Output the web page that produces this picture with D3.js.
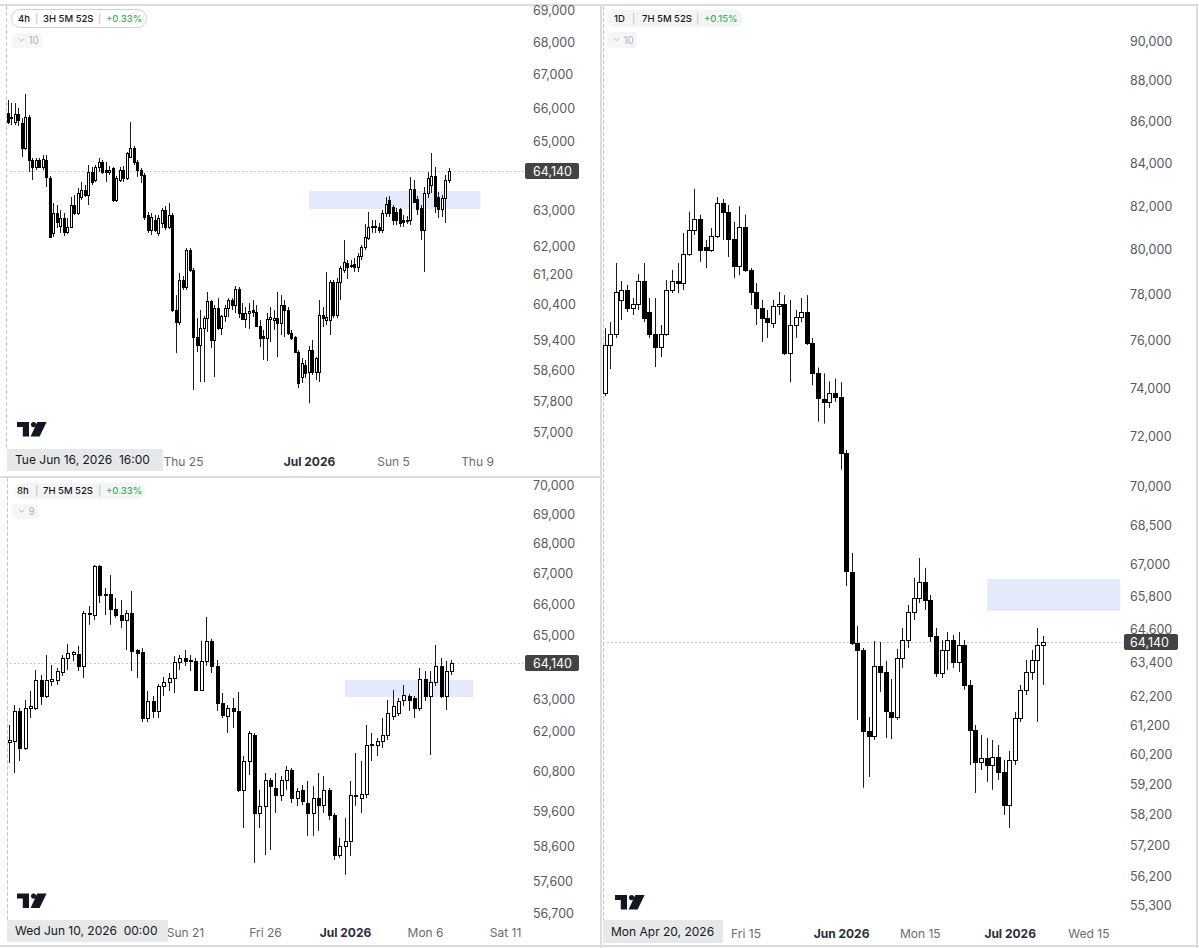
<!DOCTYPE html>
<html><head><meta charset="utf-8">
<script src="https://cdn.jsdelivr.net/npm/d3@7"></script>
<style>
body{margin:0;background:#fff;}
svg{display:block;font-family:Inter,"Noto Sans",sans-serif;}
</style></head><body>
<svg id="c" width="1199" height="948"></svg>
<script>
// ---------------- DATA ----------------
const lastPrice = 64140;

// 4h candles (start Tue Jun 16 2026 16:00 UTC)
const h4Start = "2026-06-16T16:00:00Z";
const h4Open = [65855,65705,65587,65825,65557,64820,65735,64470,64267,64470,
64267,64470,63948,62375,62942,62573,62800,62403,62545,63169,
62942,63398,63600,63456,64122,63890,64267,64412,64180,64122,
64238,63311,63890,64180,63948,64557,64820,64412,64180,64035,
62885,62460,62743,62375,62658,63027,62545,62885,60236,59911,
61061,60867,61893,61338,59504,59287,59748,60019,60480,59423,
60290,59748,60073,60290,60507,60371,60812,60155,59992,60155,
60236,60182,59802,59531,59477,59992,59965,60019,59884,60371,
60236,59612,59504,59099,58437,58755,58569,59152,58569,58569,
60100,59965,59965,61006,60100,61006,61338,61532,61477,61504,
61421,61726,61978,62233,62545,62545,62545,62460,62942,63311,
63112,62970,63055,62743,62715,62743,63629,63340,63084,62460,
63513,63745,64006,63398,63055,63369,63890];
const h4High = [66244,66154,66154,66004,65705,66425,65795,64528,64528,64528,
64615,64615,64006,63226,63169,63027,62942,62800,63398,63456,
63658,63832,63745,64325,64267,64325,64528,64470,64412,64296,
64267,64006,64267,64296,64703,65587,64879,64470,64238,64093,
62970,62942,62885,62885,63084,63141,63226,62942,60645,61255,
61172,61949,61949,61393,60019,60236,60073,60729,60507,60371,
60562,60100,60371,60562,60562,60895,60867,60426,60317,60426,
60507,60371,59965,59694,60155,60317,60236,60729,60645,60507,
60317,59694,59531,59152,58940,58887,59261,59423,58966,60507,
60317,61283,61061,61061,61117,61449,62176,61615,61615,61671,
61809,62034,62630,62970,62743,62743,62658,63027,63398,63427,
63169,63084,63084,62885,62857,63977,63890,63427,63169,63687,
64122,64674,64267,63542,63456,64035,64238];
const h4Low = [65527,65498,65498,65468,64557,64761,64122,63890,64180,64238,
64180,63687,62233,62261,62516,62375,62290,62346,62516,62885,
62885,63311,63398,63169,63745,63832,64122,64064,63832,64035,
63254,63254,63832,63832,63890,64528,64325,63977,63803,62743,
62375,62318,62403,62290,62516,62460,62488,60182,59072,59830,
60784,60784,61283,58093,59099,58305,58305,59640,59206,58437,
59694,59558,59911,60046,60236,60155,60019,59965,59748,59721,
60046,59775,59233,58887,58860,59369,59694,58966,59558,59504,
59558,59423,59072,58146,58279,58411,57749,58490,58358,58305,
59775,59830,59558,60019,60019,60507,61255,61089,61393,61283,
61283,61615,61893,62176,62375,62375,62375,62375,62828,62828,
62601,62601,62545,62545,62630,62601,63226,62885,62176,61283,
63369,63513,62942,62800,62828,62658,63803];
const h4Close = [65587,65735,65825,65646,64820,65735,64470,64267,64470,64267,
64499,63977,62261,62942,62686,62800,62403,62545,63169,62942,
63513,63600,63456,64122,63832,64267,64412,64122,64122,64180,
63311,63948,64180,63948,64674,64820,64412,64180,64035,62828,
62460,62828,62460,62800,63027,62545,62885,60236,59911,61061,
60867,61893,61338,59504,59287,59748,60019,60480,59423,60290,
59748,60073,60290,60507,60371,60812,60155,59992,60155,60209,
60182,59802,59477,59477,59992,60046,60019,59884,60371,60236,
59612,59477,59099,58279,58808,58543,59152,58569,58940,60100,
60019,60046,61006,60100,61006,61393,61560,61421,61449,61421,
61726,61978,62261,62545,62573,62573,62460,62942,63198,62942,
62743,62743,62658,62686,62743,63629,63254,63055,62460,63513,
63948,64006,63141,63055,63369,63890,64140];

// 8h candles (start Wed Jun 10 2026 00:00 UTC)
const h8Start = "2026-06-10T00:00:00Z";
const h8Open = [61680,61710,62630,61500,62722,62722,63592,63093,63561,63592,
63842,64284,64411,64411,64031,65725,65660,67263,66340,66340,
65855,65660,65503,65725,64538,64475,62414,62938,62630,63405,
63530,63654,64158,64284,64190,64190,63280,64190,64830,64031,
62876,62475,62722,62630,60242,61106,61894,59562,59767,60538,
60301,60093,60538,60836,60003,60242,59855,59562,60003,59797,
60242,59504,58344,58603,58750,60093,60003,60123,61589,61589,
61710,61894,62475,62568,62969,63093,63031,62722,63623,63093,
63530,64031,63093,63874];
const h8High = [62200,62815,62722,62969,63249,63905,63748,64380,64063,63968,
64380,64734,64506,64670,65790,65952,67296,67296,66535,66965,
66212,66147,65822,66437,64570,64600,63249,63093,63467,63686,
63811,64348,64380,64538,64380,64284,64830,65600,64894,64221,
63187,62815,63031,63218,61257,62015,61955,60242,60747,60597,
60747,60657,60955,60896,60301,60390,60508,60360,60747,60657,
60301,59562,58838,59416,60508,61347,61106,62199,61955,61802,
62414,62969,63280,63031,63436,63155,63093,63968,63874,63874,
64697,64284,64190,64221];
const h8Low = [61046,60747,61106,61437,62414,62660,62815,63031,63405,63436,
63717,63905,64190,63874,63654,65342,65503,66050,65660,65342,
65567,65246,64538,63874,63654,62290,62290,62414,62414,63093,
63249,63187,63905,64031,63874,63249,63249,64031,63811,62630,
62414,61955,62107,60182,59126,60687,58117,59126,58344,58486,
59562,59914,60242,59855,59767,59797,58896,58896,59039,59562,
59358,58202,58259,57776,58316,59767,59562,60003,61106,61257,
61498,61741,62352,62475,62784,62630,62414,62630,62938,61287,
63405,63031,62660,63748];
const h8Close = [61741,62630,61500,62722,62784,63592,63093,63592,63623,63874,
64284,64443,64475,64031,65725,65693,67263,66307,66307,65855,
65660,65503,65725,64506,64443,62414,62938,62630,63405,63530,
63654,64158,64284,64190,64221,63280,64190,64830,64031,62876,
62506,62722,62630,60242,61106,61955,59562,59767,60538,60360,
60093,60538,60836,60003,60212,59914,59562,60003,59797,60242,
59504,58344,58603,58750,60093,60063,60123,61589,61620,61710,
61894,62568,62784,62938,63124,62969,62722,63623,63093,63530,
64031,63093,63874,64140];

// 1D candles (start Mon Apr 20 2026)
const d1Start = "2026-04-20T00:00:00Z";
const d1Open = [73800,75830,76300,77774,78214,77424,77600,78610,77250,76300,
75740,76300,78214,78610,78522,79818,80900,81423,80135,80000,
80630,82145,81730,80495,79280,81040,79100,78125,77424,76990,
76770,77510,77600,75485,76686,77035,77250,75910,74620,73554,
73430,73800,73637,71350,66720,64100,63850,61000,60830,63280,
63060,61655,61480,63565,64210,65235,65750,66345,65675,64355,
63030,63850,64210,63420,64030,62600,61030,59940,60080,59840,
60110,59605,58510,60010,61450,62430,63060,63490,64030];
const d1High = [76550,76815,79416,78610,78434,77862,78920,79416,77862,77862,
76686,78654,79100,79416,80765,81750,82800,81610,80450,80990,
82420,82330,82050,81270,82000,81610,79190,78520,77774,77336,
77774,78125,77990,77774,77336,77862,77990,76128,74870,74620,
74290,74410,74250,71470,67440,64720,63920,61480,64170,64140,
63460,62810,63885,64650,65490,66500,67250,66875,65860,64650,
64210,64500,64390,64500,64210,62780,61205,60860,60760,60690,
60520,60010,60315,61655,62600,63490,63850,64650,64355];
const d1Low = [73680,74807,76128,76900,77250,77120,77336,76815,76128,74890,
75315,76214,78080,78080,78214,79728,80675,79460,79190,79910,
80540,80450,79680,78740,78870,79010,77555,76686,75960,76128,
76556,77120,75400,74250,76128,76815,75826,74120,72620,72540,
73180,73430,70680,66190,64030,61380,59080,59440,60690,62360,
60760,60725,61380,63210,63920,64940,65565,65305,64140,62885,
62850,63135,63210,63060,62430,59840,58905,59670,59275,59010,
59340,58180,57750,59840,61310,62250,62780,61310,62600];
const d1Close = [75830,76300,78125,78214,77424,77600,78610,76990,76300,75740,
76300,78214,78610,78522,79818,80900,81423,80000,80000,80630,
82145,81730,80495,79280,81040,79100,78125,77424,76990,76815,
77510,77600,75485,76686,77035,77250,75910,74620,73595,73430,
73800,73637,71350,66740,64100,63850,61000,60830,63270,63060,
61690,61480,63565,64210,65235,65750,66345,65675,64355,63030,
63850,64210,63420,64030,62610,61030,59940,60080,59840,60110,
59605,58510,60010,61450,62430,63060,63490,64030,64140];

// price-axis ticks
const p1PriceTicks = [69000,68000,67000,66000,65000,63000,62000,61200,60400,59400,58600,57800,57000];
const p2PriceTicks = [70000,69000,68000,67000,66000,65000,63000,62000,60800,59600,58600,57600,56700];
const p3PriceTicks = [90000,88000,86000,84000,82000,80000,78000,76000,74000,72000,70000,68500,67000,65800,64600,63400,62200,61200,60200,59200,58200,57200,56200,55300];

// time-axis ticks
const p1TimeTicks = ["2026-06-25","2026-07-01","2026-07-05","2026-07-09"];
const p1TimeLabels = ["Thu 25","Jul 2026","Sun 5","Thu 9"];
const p2TimeTicks = ["2026-06-21","2026-06-26","2026-07-01","2026-07-06","2026-07-11"];
const p2TimeLabels = ["Sun 21","Fri 26","Jul 2026","Mon 6","Sat 11"];
const p3TimeTicks = ["2026-05-15","2026-06-01","2026-06-15","2026-07-01","2026-07-15"];
const p3TimeLabels = ["Fri 15","Jun 2026","Mon 15","Jul 2026","Wed 15"];
const boldLabels = ["Jul 2026","Jun 2026"];

// zones [start, end, top price, bottom price]
const p1Zone = ["2026-07-01T00:00:00Z","2026-07-09T04:00:00Z",63571,63055];
const p2Zone = ["2026-07-01T00:00:00Z","2026-07-09T00:00:00Z",63592,63062];
const p3Zone = ["2026-06-27T00:00:00Z","2026-07-20T16:00:00Z",66457,65270];

// header texts
const p1Header = ["4h","3H 5M 52S","+0.33%"]; const p1Count = "10";
const p2Header = ["8h","7H 5M 52S","+0.33%"]; const p2Count = "9";
const p3Header = ["1D","7H 5M 52S","+0.15%"]; const p3Count = "10";
const p1Cross = "Tue Jun 16, 2026  16:00";
const p2Cross = "Wed Jun 10, 2026  00:00";
const p3Cross = "Mon Apr 20, 2026";

// ---------------- DRAW ----------------
const svg = d3.select('#c');
const FONT = 'Inter, "Noto Sans", sans-serif';
const fmt = d3.format(",");

// frame
const frame = svg.append('g').attr('fill','#dcdcdc');
frame.append('rect').attr('x',0).attr('y',4).attr('width',1199).attr('height',2);
frame.append('rect').attr('x',0).attr('y',476).attr('width',601).attr('height',2);
frame.append('rect').attr('x',600).attr('y',4).attr('width',2).attr('height',944);
frame.append('rect').attr('x',1196).attr('y',4).attr('width',2).attr('height',944);
frame.append('rect').attr('x',0).attr('y',945).attr('width',1199).attr('height',2);

function drawLogo(g, ox, oy){
  const lg = g.append('g').attr('transform',`translate(${ox},${oy})`).attr('fill','#131722');
  lg.append('path').attr('d','M0 0 H12 V14.5 H5.8 V5 H0 Z');
  lg.append('circle').attr('cx',16.6).attr('cy',2.6).attr('r',2.6);
  lg.append('path').attr('d','M20.3 0 H29.6 L22.6 14.5 H13.6 Z');
}

function panel(cfg){
  const g = svg.append('g');
  const n = cfg.O.length;
  const t0 = new Date(cfg.start);
  const times = d3.range(n).map(i => d3.utcHour.offset(t0, cfg.stepH*i));
  const x = d3.scaleUtc().domain([times[0], times[n-1]]).range(cfg.xRange);
  const y = d3.scaleLog().domain(cfg.yDom).range(cfg.yRange);

  // zone
  const z = cfg.zone;
  const zx0 = x(new Date(z[0])), zx1 = x(new Date(z[1]));
  g.append('rect').attr('x', zx0).attr('width', zx1-zx0)
    .attr('y', y(z[2])).attr('height', y(z[3])-y(z[2])).attr('fill','#e3eafc');

  // last price line
  const ly = Math.round(y(lastPrice)) + 0.5;
  g.append('line').attr('x1',cfg.paneL).attr('x2',cfg.paneR).attr('y1',ly).attr('y2',ly)
    .attr('stroke','#b9b9b9').attr('stroke-dasharray','1.5,2.5');

  // crosshair vertical
  const cx = Math.round(x(times[0])) - 1.5;
  g.append('line').attr('x1',cx).attr('x2',cx).attr('y1',cfg.crossTop).attr('y2',cfg.crossBox[1])
    .attr('stroke','#c8c8c8').attr('stroke-dasharray','4,2');

  const data = times.map((t,i)=>({t, o:cfg.O[i], h:cfg.H[i], l:cfg.L[i], c:cfg.C[i]}));
  const wx = d => Math.floor(x(d.t)) + 0.5;
  g.append('g').selectAll('line').data(data).join('line')
    .attr('x1', wx).attr('x2', wx)
    .attr('y1', d => y(d.h)).attr('y2', d => y(d.l))
    .attr('stroke','#1c1c1c').attr('stroke-width',1);
  const bw = cfg.bodyW;
  g.append('g').selectAll('rect').data(data).join('rect')
    .attr('x', d => Math.floor(wx(d) - bw/2) + 0.5)
    .attr('y', d => Math.round(Math.min(y(d.o), y(d.c))) + 0.5)
    .attr('width', bw)
    .attr('height', d => Math.max(1, Math.round(Math.abs(y(d.o) - y(d.c)))))
    .attr('fill', d => d.c >= d.o ? '#ffffff' : '#000000')
    .attr('stroke','#000').attr('stroke-width',1);

  // price axis
  const ya = g.append('g').attr('transform',`translate(${cfg.axisX},0)`)
    .call(d3.axisRight(y).tickValues(cfg.ticks).tickFormat(fmt).tickSize(0).tickPadding(0));
  ya.select('.domain').remove();
  ya.attr('font-family', FONT).attr('font-size', 12.5);
  ya.selectAll('text').attr('fill','#565a63');

  // price label box
  g.append('rect').attr('x',cfg.boxX).attr('y',ly-8.5).attr('width',54).attr('height',16).attr('rx',2).attr('fill','#434343');
  g.append('text').attr('x',cfg.axisX).attr('y',ly).attr('dy','0.35em').attr('fill','#fff')
    .attr('font-size',12.5).attr('font-family',FONT).text(fmt(lastPrice));

  // time axis
  const xa = g.append('g').attr('transform',`translate(0,${cfg.timeY})`)
    .call(d3.axisBottom(x).tickValues(cfg.tTicks.map(d => new Date(d + "T00:00:00Z")))
      .tickFormat((d,i) => cfg.tLabels[i]).tickSize(0).tickPadding(0));
  xa.select('.domain').remove();
  xa.attr('font-family', FONT).attr('font-size', 12);
  xa.selectAll('text')
    .attr('fill', (d,i) => boldLabels.includes(cfg.tLabels[i]) ? '#2a2e39' : '#676b75')
    .attr('font-weight', (d,i) => boldLabels.includes(cfg.tLabels[i]) ? 700 : 400);

  // crosshair date box
  const cb = cfg.crossBox;
  g.append('rect').attr('x',cb[0]).attr('y',cb[1]).attr('width',cb[2]).attr('height',cb[3]).attr('fill','#e7e8ea');
  g.append('text').attr('x',cb[0]+8).attr('y',cb[1]+cb[3]/2).attr('dy','0.36em')
    .attr('fill','#131722').attr('font-size',12).attr('font-family',FONT)
    .style('white-space','pre').text(cfg.cross);

  // header pill
  const hp = cfg.pill;
  g.append('rect').attr('x',hp[0]).attr('y',hp[1]).attr('width',hp[2]).attr('height',hp[3]).attr('rx',hp[3]/2)
    .attr('fill', cfg.pillStroke ? '#fff' : '#f3f4f6')
    .attr('stroke', cfg.pillStroke ? '#cfd1d5' : 'none');
  const hy = hp[1] + hp[3]/2;
  const hx = cfg.headX;
  const ht = g.append('g').attr('font-family',FONT).attr('font-size',9.5).attr('font-weight',500);
  ht.append('text').attr('x',hx[0]).attr('y',hy).attr('dy','0.36em').attr('fill','#131722').text(cfg.header[0]);
  ht.append('text').attr('x',hx[1]).attr('y',hy).attr('dy','0.36em').attr('fill','#c3c5ca').text('|');
  ht.append('text').attr('x',hx[2]).attr('y',hy).attr('dy','0.36em').attr('fill','#131722').text(cfg.header[1]);
  ht.append('text').attr('x',hx[3]).attr('y',hy).attr('dy','0.36em').attr('fill','#c3c5ca').text('|');
  ht.append('text').attr('x',hx[4]).attr('y',hy).attr('dy','0.36em').attr('fill','#3fae5c').text(cfg.header[2]);

  // collapsed indicators count
  const cp = cfg.cpill;
  g.append('rect').attr('x',cp[0]).attr('y',cp[1]).attr('width',cp[2]).attr('height',cp[3]).attr('rx',4).attr('fill','#f6f6f7');
  const cy = cp[1] + cp[3]/2;
  g.append('path').attr('d',`M${cp[0]+7} ${cy-1.8} L${cp[0]+9.5} ${cy+0.8} L${cp[0]+12} ${cy-1.8}`)
    .attr('fill','none').attr('stroke','#b2b5bc').attr('stroke-width',1);
  g.append('text').attr('x',cp[0]+16.5).attr('y',cy).attr('dy','0.36em').attr('fill','#aeb1b8')
    .attr('font-size',10).attr('font-family',FONT).text(cfg.count);

  drawLogo(g, cfg.logo[0], cfg.logo[1]);
}

panel({start:h4Start, stepH:4, O:h4Open, H:h4High, L:h4Low, C:h4Close,
  xRange:[8,449], yDom:[69000,57000], yRange:[10,432], bodyW:2,
  zone:p1Zone, ticks:p1PriceTicks, tTicks:p1TimeTicks, tLabels:p1TimeLabels,
  axisX:533, boxX:525, paneL:6, paneR:525, timeY:457, crossTop:6,
  crossBox:[7,449,156,22], cross:p1Cross,
  pill:[11.5,9.5,135,18], pillStroke:true, headX:[18,35,43,98,106], header:p1Header,
  cpill:[12,33,30,15], count:p1Count, logo:[17,422]});

panel({start:h8Start, stepH:8, O:h8Open, H:h8High, L:h8Low, C:h8Close,
  xRange:[9,451.7], yDom:[70000,56700], yRange:[485,913], bodyW:3,
  zone:p2Zone, ticks:p2PriceTicks, tTicks:p2TimeTicks, tLabels:p2TimeLabels,
  axisX:533, boxX:525, paneL:6, paneR:525, timeY:928.5, crossTop:478,
  crossBox:[7,920,161,22], cross:p2Cross,
  pill:[15,483,130,16], pillStroke:false, headX:[17,35,43,98,106], header:p2Header,
  cpill:[12,504,26,15], count:p2Count, logo:[17,893.5]});

panel({start:d1Start, stepH:24, O:d1Open, H:d1High, L:d1Low, C:d1Close,
  xRange:[605,1043.4], yDom:[90000,55300], yRange:[41,905], bodyW:4,
  zone:p3Zone, ticks:p3PriceTicks, tTicks:p3TimeTicks, tLabels:p3TimeLabels,
  axisX:1130, boxX:1124, paneL:603, paneR:1124, timeY:929, crossTop:6,
  crossBox:[603,920,120,23], cross:p3Cross,
  pill:[607,10,136,17], pillStroke:false, headX:[614,632,642,696,704], header:p3Header,
  cpill:[607,32,30,16], count:p3Count, logo:[615,895]});
</script></body></html>
